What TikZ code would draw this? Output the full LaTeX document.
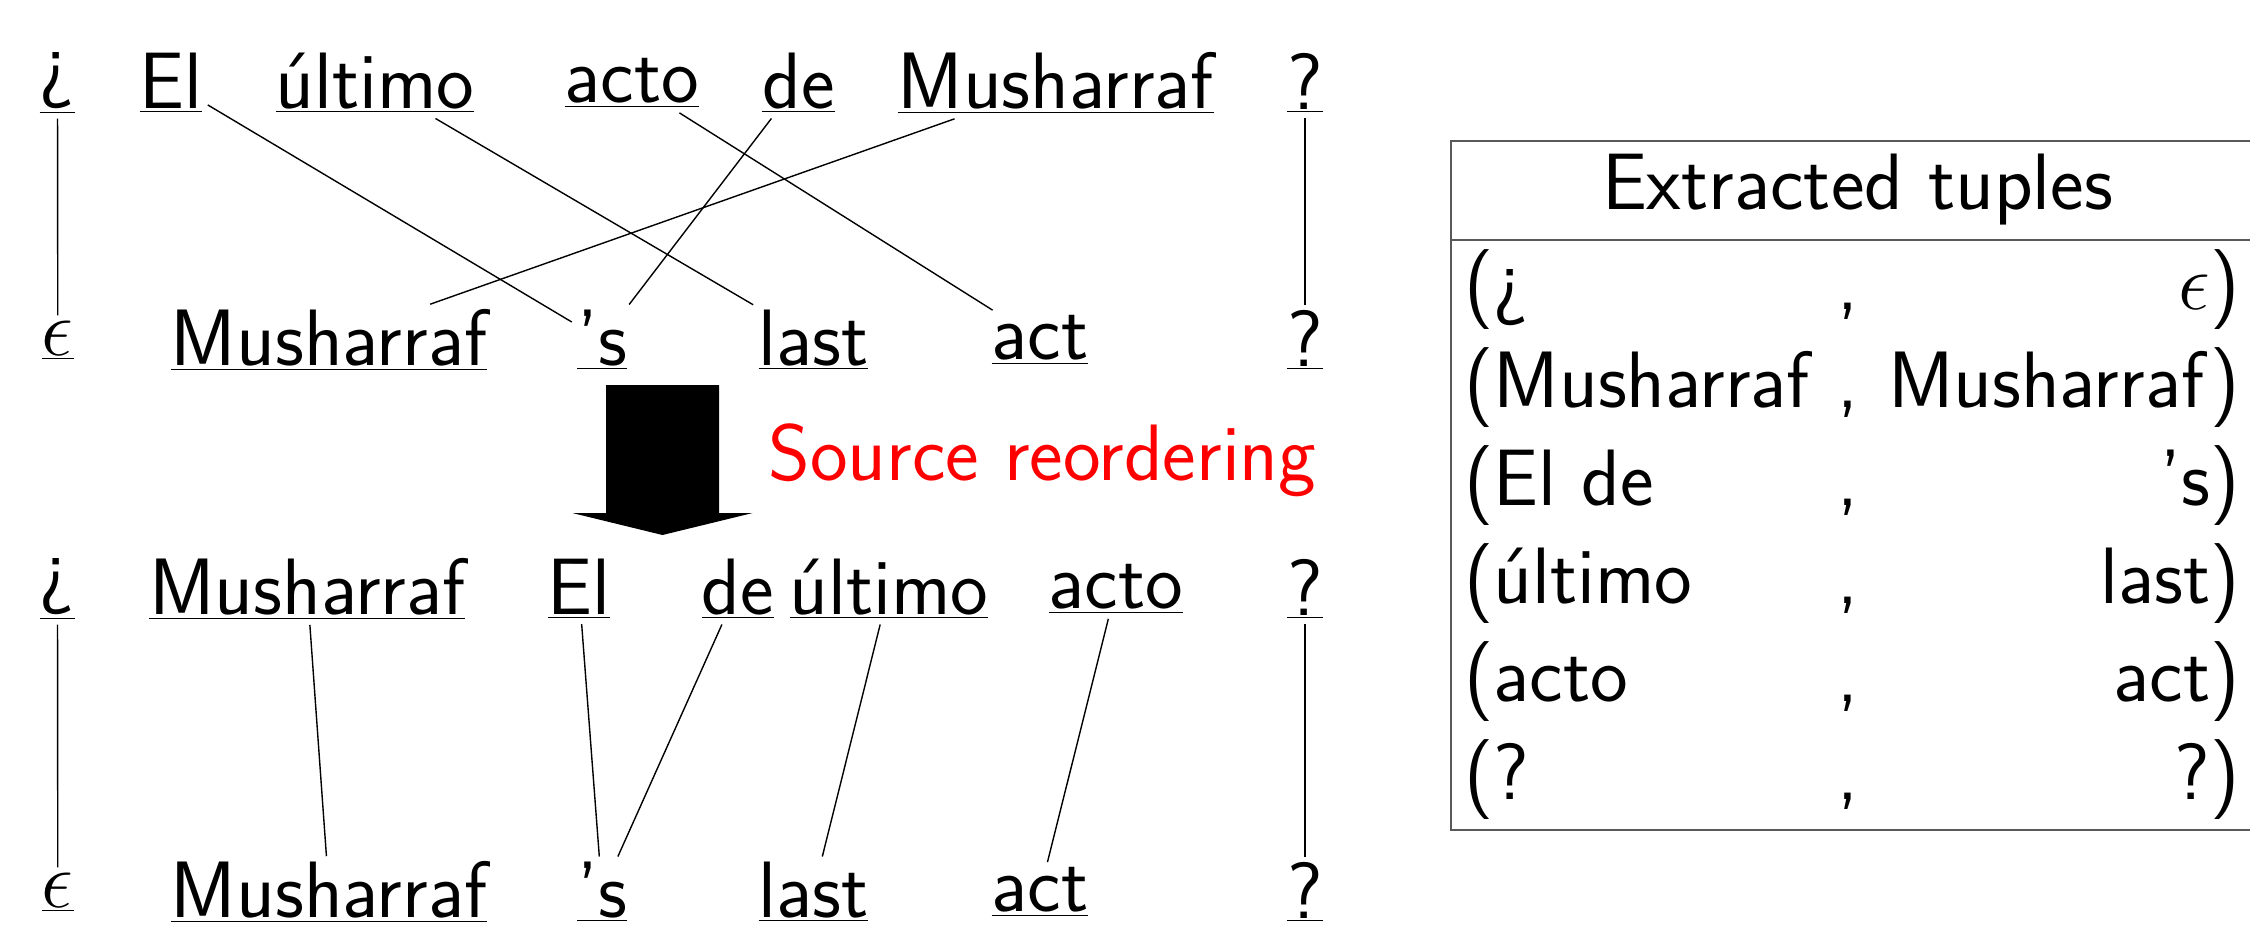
\RequirePackage{fix-cm}
\documentclass[tikz,border=0pt]{standalone}
\newcommand\wordfont{\fontsize{40}{48}\selectfont\sffamily}
\newcommand\ul[1]{\underline{#1}}
\tikzset{
  word/.style={inner sep=2.5pt, font=\wordfont},
  link/.style={line width=0.7pt},
  cell/.style={inner sep=0pt, font=\wordfont},
  frame/.style={line width=1pt, black!65},
}
\begin{document}
\begin{tikzpicture}[x=0.5pt,y=-0.5pt]
\useasboundingbox (0,0) rectangle (2250,938);

% source sentence and its translation
\node[word] (s1) at (57.5,83)   {\ul{¿}};
\node[word] (s2) at (171,83)    {\ul{El}};
\node[word] (s3) at (375,83)    {\ul{último}};
\node[word] (s4) at (632,83)    {\ul{acto}};
\node[word] (s5) at (798.5,83)  {\ul{de}};
\node[word] (s6) at (1055.7,83) {\ul{Musharraf}};
\node[word] (s7) at (1305,83)   {\ul{?}};

\node[word] (t1) at (57.8,340)  {\ul{$\epsilon$}};
\node[word] (t2) at (329,340)   {\ul{Musharraf}};
\node[word] (t3) at (602,340)   {\ul{'s}};
\node[word] (t4) at (813.5,340) {\ul{last}};
\node[word] (t5) at (1040,340)  {\ul{act}};
\node[word] (t6) at (1305,340)  {\ul{?}};

\draw[link] (s1) -- (t1);
\draw[link] (s2) -- (t3);
\draw[link] (s3) -- (t4);
\draw[link] (s4) -- (t5);
\draw[link] (s5) -- (t3);
\draw[link] (s6) -- (t2);
\draw[link] (s7) -- (t6);

% reordering arrow
\fill (606,385) -- (719,385) -- (719,513) -- (752.7,513) -- (662.5,535)
      -- (572.3,513) -- (606,513) -- cycle;
\node[font=\wordfont, text=red, anchor=base west, inner sep=0pt] (reorder)
  at (768,480) {Source reordering};

% reordered source and its translation
\node[word] (r1) at (57.5,589)   {\ul{¿}};
\node[word] (r2) at (307.3,589)  {\ul{Musharraf}};
\node[word] (r3) at (579,589)    {\ul{El}};
\node[word] (r4) at (737.8,589)  {\ul{de}};
\node[word] (r5) at (889,589)    {\ul{último}};
\node[word] (r6) at (1115.8,589) {\ul{acto}};
\node[word] (r7) at (1305,589)   {\ul{?}};

\node[word] (u1) at (57.8,892)  {\ul{$\epsilon$}};
\node[word] (u2) at (329,892)   {\ul{Musharraf}};
\node[word] (u3) at (602,892)   {\ul{'s}};
\node[word] (u4) at (813.5,892) {\ul{last}};
\node[word] (u5) at (1040,892)  {\ul{act}};
\node[word] (u6) at (1305,892)  {\ul{?}};

\draw[link] (r1) -- (u1);
\draw[link] (r2) -- (u2);
\draw[link] (r3) -- (u3);
\draw[link] (r4) -- (u3);
\draw[link] (r5) -- (u4);
\draw[link] (r6) -- (u5);
\draw[link] (r7) -- (u6);

% table of extracted tuples
\draw[frame] (2250,141) -| (1451,830) -- (2250,830);
\draw[frame] (1451,240) -- (2250,240);
\node[cell, anchor=base] (head) at (1857.5,209.6) {Extracted tuples};
\foreach \lft/\rgt [count=\i from 0] in
  {{(¿}/{$\epsilon$)},{(Musharraf}/{Musharraf)},{(El de}/{'s)},
   {(último}/{last)},{(acto}/{act)},{(?}/{?)}}{
  \node[cell, anchor=base west] (left\i)  at (1464,309+98.1*\i) {\lft};
  \node[cell, anchor=base]      (comma\i) at (1848,309+98.1*\i) {,};
  \node[cell, anchor=base east] (right\i) at (2240,309+98.1*\i) {\rgt};
}
\end{tikzpicture}
\end{document}
